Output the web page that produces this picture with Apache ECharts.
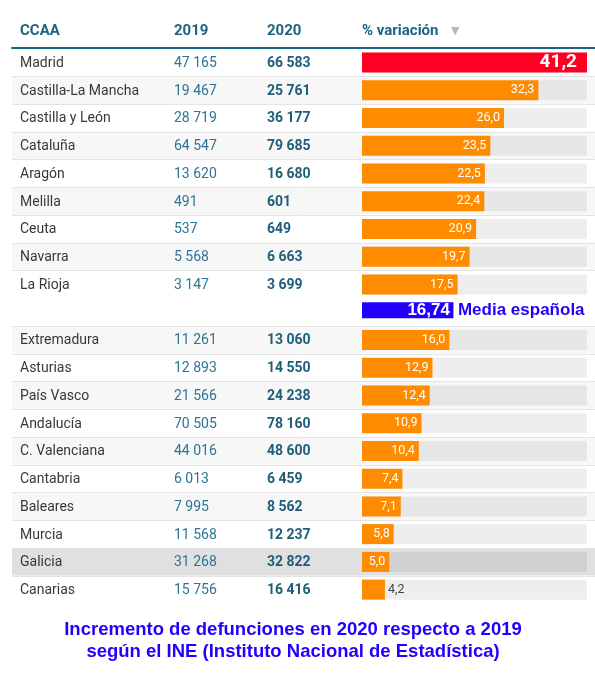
<!DOCTYPE html>
<html><head><meta charset="utf-8">
<script src="https://cdn.jsdelivr.net/npm/echarts@6/dist/echarts.min.js"></script>
<style>html,body{margin:0;padding:0;background:#fff}#c{width:595px;height:674px}</style>
</head><body><div id="c"></div>
<script>
// ---------- DATA ----------
const regions = ['Madrid','Castilla-La Mancha','Castilla y León','Cataluña','Aragón','Melilla','Ceuta','Navarra','La Rioja','',
  'Extremadura','Asturias','País Vasco','Andalucía','C. Valenciana','Cantabria','Baleares','Murcia','Galicia','Canarias'];
const deaths2019 = [47165,19467,28719,64547,13620,491,537,5568,3147,null,11261,12893,21566,70505,44016,6013,7995,11568,31268,15756];
const deaths2020 = [66583,25761,36177,79685,16680,601,649,6663,3699,null,13060,14550,24238,78160,48600,6459,8562,12237,32822,16416];
const variation  = [41.2,32.3,26.0,23.5,22.5,22.4,20.9,19.7,17.5,null,16.0,12.9,12.4,10.9,10.4,7.4,7.1,5.8,5.0,4.2];
const spainMean  = [null,null,null,null,null,null,null,null,null,16.74,null,null,null,null,null,null,null,null,null,null];
const meanLabel = 'Media española';
const headers = ['CCAA','2019','2020','% variación'];
const titleLines = ['Incremento de defunciones en 2020 respecto a 2019','según el INE (Instituto Nacional de Estadística)'];
const highlightedRegion = 'Galicia';

// ---------- HELPERS ----------
const fmtInt = n => n == null ? '' : String(n).replace(/\B(?=(\d{3})+(?!\d))/g, ' ');
const fmtDec = (v, d) => v.toFixed(d).replace('.', ',');
const maxVal = Math.max(...variation.filter(v => v != null));

const TEAL = '#1c6482', RED = '#ff0022', ORANGE = '#ff8c00', BLUE = '#2200ff';
const GRID_TOP = 48.5, GRID_BOTTOM = 70.5;

// row backgrounds & separators (style, derived from row kind)
const areaColors = [];
let k = 0;
regions.forEach((r, i) => {
  if (variation[i] == null) { areaColors.push('rgba(0,0,0,0)'); return; }
  let c = (k % 2) ? '#f7f7f7' : '#ffffff';
  if (r === highlightedRegion) c = '#e0e0e0';
  areaColors.push(c); k++;
});
const lineColors = [];
for (let i = 0; i <= regions.length; i++) {
  let c = '#e4e4e4';
  if (i === 0 || i === regions.length) c = 'rgba(0,0,0,0)';
  if (i > 0 && i < regions.length && variation[i] == null) c = 'rgba(0,0,0,0)'; // above the mean row
  lineColors.push(c);
}

const PX_PER_UNIT = 225 / maxVal;
const mainData = variation.map((v, i) => {
  if (v == null) return '-';
  const item = { value: v, itemStyle: { color: i === 0 ? RED : ORANGE } };
  if (i === 0) {
    item.label = { fontSize: 19, fontWeight: 'bold', distance: 10 };
  } else if (v * PX_PER_UNIT < 26) {
    item.label = { position: 'right', color: '#444', distance: 3 };
  }
  return item;
});

const chart = echarts.init(document.getElementById('c'), null, { renderer: 'canvas' });
chart.setOption({
  animation: false,
  backgroundColor: '#fff',
  textStyle: { fontFamily: 'Roboto' },
  grid: [
    { left: 12, right: 0, top: GRID_TOP, bottom: GRID_BOTTOM },
    { left: 362, right: 8, top: GRID_TOP, bottom: GRID_BOTTOM }
  ],
  xAxis: [
    { gridIndex: 0, type: 'value', min: 0, max: 1, position: 'top', offset: 1,
      axisLine: { show: true, lineStyle: { color: TEAL, width: 2 } },
      axisTick: { show: false }, axisLabel: { show: false }, splitLine: { show: false } },
    { gridIndex: 1, type: 'value', min: 0, max: maxVal, show: false, splitLine: { show: false } }
  ],
  yAxis: [
    { gridIndex: 0, type: 'category', inverse: true, data: regions,
      axisLine: { show: false }, axisTick: { show: false },
      splitLine: { show: true, interval: 0, lineStyle: { color: lineColors, width: 1 } },
      splitArea: { show: true, interval: 0, areaStyle: { color: areaColors } },
      axisLabel: {
        inside: true, margin: 8, interval: 0, align: 'left', verticalAlign: 'middle',
        formatter: (val, idx) => variation[idx] == null ? '' :
          '{n|' + regions[idx] + '}{a|' + fmtInt(deaths2019[idx]) + '}{b|' + fmtInt(deaths2020[idx]) + '}',
        rich: {
          n: { width: 154, fontSize: 14, color: '#383838', fontFamily: 'Roboto', padding: [2, 0, 0, 0] },
          a: { width: 93, fontSize: 14, color: '#2d7594', fontFamily: 'Roboto', padding: [2, 0, 0, 0] },
          b: { width: 80, fontSize: 14, color: '#1f5e78', fontWeight: 'bold', fontFamily: 'Roboto', padding: [2, 0, 0, 0] }
        }
      } },
    { gridIndex: 1, type: 'category', inverse: true, data: regions, show: false }
  ],
  series: [
    { name: 'Media', type: 'bar', xAxisIndex: 1, yAxisIndex: 1, data: spainMean.map(v => v == null ? '-' : v),
      barWidth: 16, barGap: '-100%', itemStyle: { color: BLUE }, silent: true,
      label: { show: true, position: 'right', distance: 0, offset: [-46, 0],
        formatter: p => '{v|' + fmtDec(p.value, 2) + '}{t|' + meanLabel + '}',
        rich: {
          v: { color: '#fff', fontSize: 17, fontWeight: 'bold', fontFamily: 'Liberation Sans' },
          t: { color: BLUE, fontSize: 17, fontWeight: 'bold', fontFamily: 'Liberation Sans', padding: [0, 0, 0, 8] }
        } } },
    { name: 'fondo', type: 'bar', xAxisIndex: 1, yAxisIndex: 1, silent: true,
      data: variation.map(v => v == null ? '-' : maxVal),
      barWidth: 20, barGap: '-100%', itemStyle: { color: 'rgba(0,0,0,0.065)' } },
    { name: '% variación', type: 'bar', xAxisIndex: 1, yAxisIndex: 1, data: mainData,
      barWidth: 20, barGap: '-100%',
      label: { show: true, position: 'insideRight', distance: 4, color: '#fff', fontSize: 12.5, fontFamily: 'Roboto',
        formatter: p => fmtDec(p.value, 1) } }
  ],
  graphic: [
    { type: 'text', x: 20, y: 31, style: { text: headers[0], fill: TEAL, font: 'bold 15px Roboto', textVerticalAlign: 'middle' } },
    { type: 'text', x: 174, y: 31, style: { text: headers[1], fill: TEAL, font: 'bold 15px Roboto', textVerticalAlign: 'middle' } },
    { type: 'text', x: 267, y: 31, style: { text: headers[2], fill: TEAL, font: 'bold 15px Roboto', textVerticalAlign: 'middle' } },
    { type: 'text', x: 362, y: 31, style: { text: headers[3], fill: TEAL, font: 'bold 15px Roboto', textVerticalAlign: 'middle' } },
    { type: 'text', x: 451, y: 31, style: { text: '▼', fill: '#b8b8b8', font: '11px "DejaVu Sans"', textVerticalAlign: 'middle' } },
    { type: 'text', x: 293, y: 641, style: { text: titleLines.join('\n'), fill: BLUE, font: 'bold 18.5px "Liberation Sans"',
      lineHeight: 22, textAlign: 'center', textVerticalAlign: 'middle' } }
  ]
});
</script></body></html>
